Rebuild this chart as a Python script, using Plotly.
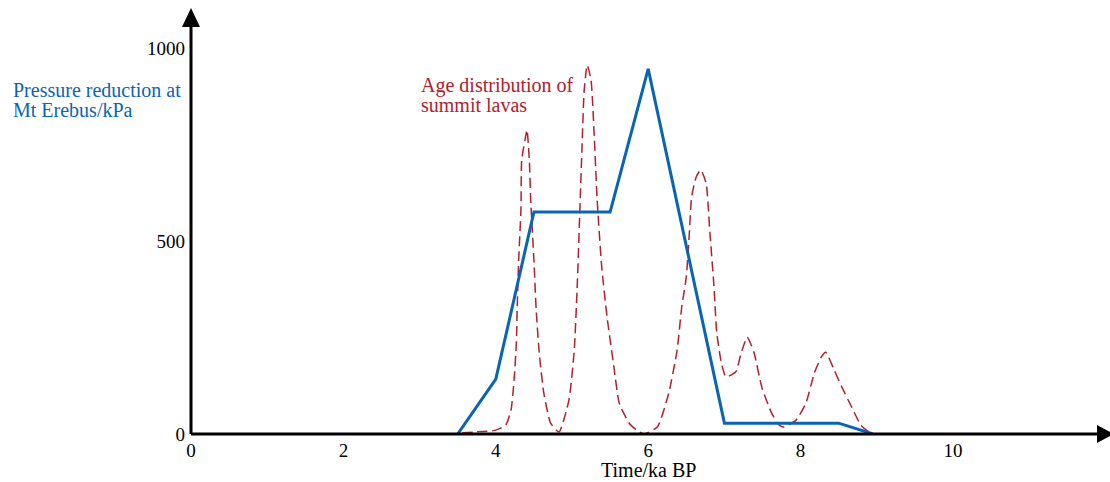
import plotly.graph_objects as go

# Figure geometry (pixels)
W, H = 1110, 482
ML, MR, MT, MB = 191, 0, 8, 48
PW, PH = W - ML - MR, H - MT - MB
X_PER_KA = 76.2      # px per ka
Y_PER_KPA = 0.386    # px per kPa
X_MAX = PW / X_PER_KA
Y_MAX = PH / Y_PER_KPA

# Pressure reduction at Mt Erebus (kPa) versus time (ka BP)
pressure_time = [3.5, 4.0, 4.5, 5.5, 6.0, 7.0, 8.5, 8.95]
pressure_kpa = [0, 142, 575, 575, 946, 28, 28, 0]

# Age distribution of summit lavas (relative frequency, drawn on the same scale)
lava_time = [3.56, 3.71, 4.00, 4.13, 4.20, 4.24, 4.27, 4.28, 4.30, 4.33, 4.34, 4.40,
             4.41, 4.44, 4.46, 4.50, 4.53, 4.57, 4.63, 4.72, 4.83, 4.96, 5.03, 5.07,
             5.10, 5.13, 5.16, 5.20, 5.25, 5.29, 5.33, 5.39, 5.46, 5.55, 5.62, 5.75,
             5.85, 5.94, 6.12, 6.27, 6.38, 6.44, 6.50, 6.54, 6.57, 6.63, 6.69, 6.76,
             6.81, 6.86, 6.90, 6.96, 7.02, 7.15, 7.22, 7.30, 7.39, 7.49, 7.62, 7.72,
             7.78, 7.94, 8.07, 8.18, 8.27, 8.33, 8.44, 8.54, 8.67, 8.79, 8.90]
lava_freq = [3, 5, 10, 23, 62, 140, 236, 321, 451, 580, 710, 780,
             788, 710, 598, 451, 321, 210, 106, 28, 5, 88, 218, 391,
             562, 736, 891, 956, 917, 780, 606, 433, 303, 174, 80, 28,
             10, 0, 18, 106, 218, 329, 407, 521, 614, 666, 684, 650,
             521, 391, 262, 184, 148, 161, 210, 251, 210, 122, 54, 23,
             18, 36, 80, 158, 199, 212, 166, 122, 70, 23, 5]

x_ticks = [0, 2, 4, 6, 8, 10]
y_ticks = [0, 500, 1000]

BLUE = "#0A64B4"
RED = "#B0202E"
FONT = "Liberation Serif"


def px_x(px):
    return (px - ML) / PW


def px_y(py):
    return (H - MB - py) / PH


fig = go.Figure()
fig.add_trace(go.Scatter(
    x=lava_time, y=lava_freq, mode="lines",
    line=dict(color=RED, width=1.5, dash="10px,5px", shape="spline", smoothing=0.5),
    hoverinfo="skip", showlegend=False,
))
fig.add_trace(go.Scatter(
    x=pressure_time, y=pressure_kpa, mode="lines",
    line=dict(color=BLUE, width=3),
    hoverinfo="skip", showlegend=False,
))

# Axis lines with arrowheads
shapes = [
    dict(type="line", xref="paper", yref="paper", x0=0, x1=0, y0=0, y1=px_y(20),
         line=dict(color="black", width=3)),
    dict(type="line", xref="paper", yref="paper", x0=0, x1=px_x(1100), y0=0, y1=0,
         line=dict(color="black", width=3)),
    dict(type="path", xref="paper", yref="paper", fillcolor="black", line=dict(width=0),
         path=f"M {px_x(ML-9)},{px_y(27)} L {px_x(ML+9)},{px_y(27)} L {px_x(ML)},{px_y(8)} Z"),
    dict(type="path", xref="paper", yref="paper", fillcolor="black", line=dict(width=0),
         path=f"M {px_x(1097)},{px_y(434-9)} L {px_x(1097)},{px_y(434+9)} "
              f"L {px_x(1114)},{px_y(434)} Z"),
]

annotations = [
    dict(text="Pressure reduction at", xref="paper", yref="paper",
         x=px_x(11), y=px_y(90), xanchor="left", yanchor="middle", showarrow=False,
         font=dict(family=FONT, size=20, color=BLUE)),
    dict(text="Mt Erebus/kPa", xref="paper", yref="paper",
         x=px_x(11), y=px_y(110), xanchor="left", yanchor="middle", showarrow=False,
         font=dict(family=FONT, size=20, color=BLUE)),
    dict(text="Age distribution of", xref="paper", yref="paper",
         x=px_x(419), y=px_y(86), xanchor="left", yanchor="middle", showarrow=False,
         font=dict(family=FONT, size=20, color=RED)),
    dict(text="summit lavas", xref="paper", yref="paper",
         x=px_x(419), y=px_y(105), xanchor="left", yanchor="middle", showarrow=False,
         font=dict(family=FONT, size=20, color=RED)),
    dict(text="Time/ka BP", xref="paper", yref="paper",
         x=px_x(648), y=px_y(470), xanchor="center", yanchor="middle", showarrow=False,
         font=dict(family=FONT, size=20, color="black")),
]

fig.update_layout(
    width=W, height=H,
    margin=dict(l=ML, r=MR, t=MT, b=MB, pad=0),
    paper_bgcolor="white", plot_bgcolor="white",
    shapes=shapes, annotations=annotations,
    font=dict(family=FONT, size=19, color="black"),
    xaxis=dict(range=[0, X_MAX], tickvals=x_ticks, ticktext=[str(v) for v in x_ticks],
               showgrid=False, zeroline=False, showline=False, ticks="",
               ticklabelstandoff=3, fixedrange=True),
    yaxis=dict(range=[0, Y_MAX], tickvals=y_ticks, ticktext=[str(v) for v in y_ticks],
               showgrid=False, zeroline=False, showline=False, ticks="",
               ticklabelstandoff=5, fixedrange=True),
)

fig.write_html("out.html")
